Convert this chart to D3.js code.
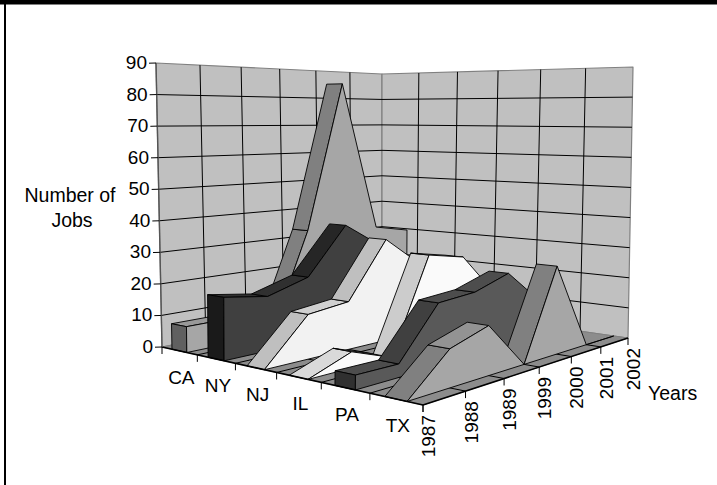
<!DOCTYPE html>
<html>
<head>
<meta charset="utf-8">
<script src="https://cdn.jsdelivr.net/npm/d3@7"></script>
<style>
  html, body { margin: 0; padding: 0; background: #fff; }
  svg { display: block; }
  text { font-family: "Liberation Sans", Arial, sans-serif; fill: #000; }
</style>
</head>
<body>
<div id="chart"></div>
<script>
// data
var years = ["1987", "1988", "1989", "1999", "2000", "2001", "2002"];
var states = ["TX", "PA", "IL", "NJ", "NY", "CA"]; // front to back
var valueTicks = [0, 10, 20, 30, 40, 50, 60, 70, 80, 90];
var caJobs = [8, 8, 0, 33.5, 85, 32, 29.5];
var nyJobs = [19, 17, 21, 36.5, 28, 15, 0];
var njJobs = [0, 13.5, 15, 33, 23, 10, 0];
var ilJobs = [0, 4.7, 0, 29.4, 27, 13, 0];
var paJobs = [4, 3.8, 18.6, 19.5, 23.3, 12.4, 0];
var txJobs = [0, 10.6, 14.2, 0, 27.2, 0, 0];
var jobs = { CA: caJobs, NY: nyJobs, NJ: njJobs, IL: ilJobs, PA: paJobs, TX: txJobs };

// shades
var frontColor = { CA: "#a6a6a6", NY: "#404040", NJ: "#f2f2f2", IL: "#fafafa", PA: "#595959", TX: "#a6a6a6" };
var stripColor = { CA: "#808080", NY: "#262626", NJ: "#bfbfbf", IL: "#cccccc", PA: "#404040", TX: "#808080" };
var flatColor = { CA: "#999999", NY: "#303030", NJ: "#d0d0d0", IL: "#d9d9d9", PA: "#4d4d4d", TX: "#939393" };
var capColor = { CA: "#606060", NY: "#1a1a1a", NJ: "#999999", IL: "#999999", PA: "#303030", TX: "#606060" };

var width = 717, height = 485;

var svg = d3.select("#chart").append("svg")
  .attr("width", width)
  .attr("height", height);

var scU = d3.scalePoint().domain(years).range([0, 1]);
var scV = d3.scaleBand().domain(states).range([0, 1]).paddingInner(0.58).paddingOuter(0.29);
var scZ = d3.scaleLinear().domain([0, 90]).range([0, 1]);

// unit square to quad, corners (0,0) (1,0) (1,1) (0,1)
function quad(p) {
  var dx1 = p[1][0] - p[2][0], dx2 = p[3][0] - p[2][0], sx = p[0][0] - p[1][0] + p[2][0] - p[3][0];
  var dy1 = p[1][1] - p[2][1], dy2 = p[3][1] - p[2][1], sy = p[0][1] - p[1][1] + p[2][1] - p[3][1];
  var den = dx1 * dy2 - dx2 * dy1;
  var g = (sx * dy2 - dx2 * sy) / den;
  var h = (dx1 * sy - sx * dy1) / den;
  var a = p[1][0] - p[0][0] + g * p[1][0], b = p[3][0] - p[0][0] + h * p[3][0];
  var d = p[1][1] - p[0][1] + g * p[1][1], e = p[3][1] - p[0][1] + h * p[3][1];
  return function (u, v) {
    var w = g * u + h * v + 1;
    return [(a * u + b * v + p[0][0]) / w, (d * u + e * v + p[0][1]) / w];
  };
}

var floorAt = quad([[423, 405], [628, 338], [382, 303], [162, 347]]);
var ceilAt = quad([[424, 52], [633, 67], [382, 74], [156, 63]]);

function pt(u, v, val) {
  var a = floorAt(u, v), b = ceilAt(u, v), t = scZ(val);
  return [a[0] + (b[0] - a[0]) * t, a[1] + (b[1] - a[1]) * t];
}

var lineMkr = d3.line();
function poly(g, pts, fill, stroke, sw) {
  g.append("path")
    .attr("d", lineMkr(pts) + "Z")
    .attr("fill", fill)
    .attr("stroke", stroke)
    .attr("stroke-width", sw)
    .attr("stroke-linejoin", "round");
}
function seg(g, a, b, stroke, sw) {
  g.append("path")
    .attr("d", lineMkr([a, b]))
    .attr("fill", "none")
    .attr("stroke", stroke)
    .attr("stroke-width", sw);
}

// slot edges on the state axis
var slotEdges = d3.range(states.length + 1).map(i => i * scV.step());

// walls and floor
var back = svg.append("g");
poly(back, [pt(0, 1, 0), pt(1, 1, 0), pt(1, 1, 90), pt(0, 1, 90)], "#c0c0c0", "#808080", 1.2);
poly(back, [pt(1, 1, 0), pt(1, 0, 0), pt(1, 0, 90), pt(1, 1, 90)], "#c0c0c0", "#808080", 1.2);
poly(back, [pt(0, 0, 0), pt(1, 0, 0), pt(1, 1, 0), pt(0, 1, 0)], "#8c8c8c", "#808080", 1);

valueTicks.slice(1, -1).forEach(function (val) {
  seg(back, pt(0, 1, val), pt(1, 1, val), "#000", 1);
  seg(back, pt(1, 1, val), pt(1, 0, val), "#000", 1);
});
years.slice(1, -1).forEach(function (yr) {
  seg(back, pt(scU(yr), 1, 0), pt(scU(yr), 1, 90), "#000", 1);
  seg(back, pt(scU(yr), 1, 0), pt(scU(yr), 0, 0), "#000", 1);
});
slotEdges.slice(1, -1).forEach(function (v) {
  seg(back, pt(1, v, 0), pt(1, v, 90), "#000", 1);
  seg(back, pt(0, v, 0), pt(1, v, 0), "#000", 1);
});

// ribbons, back to front
var ribbons = svg.append("g");
states.slice().reverse().forEach(function (st) {
  var g = ribbons.append("g");
  var vf = scV(st), vb = vf + scV.bandwidth();
  var vals = jobs[st];

  // top strips, only those facing the viewer
  d3.pairs(years).forEach(function (p, i) {
    var u0 = scU(p[0]), u1 = scU(p[1]);
    var pts = [pt(u0, vf, vals[i]), pt(u1, vf, vals[i + 1]), pt(u1, vb, vals[i + 1]), pt(u0, vb, vals[i])];
    if (vals[i] === 0 && vals[i + 1] === 0) return;
    if (d3.polygonArea(pts) < 0) return;
    poly(g, pts, Math.abs(vals[i + 1] - vals[i]) < 6 ? flatColor[st] : stripColor[st], "#000", 0.9);
  });

  // end cap at the first year
  if (vals[0] > 0) {
    poly(g, [pt(0, vf, 0), pt(0, vf, vals[0]), pt(0, vb, vals[0]), pt(0, vb, 0)], capColor[st], "#000", 0.9);
  }

  // front face
  var top = years.map((yr, i) => pt(scU(yr), vf, vals[i]));
  poly(g, [pt(0, vf, 0)].concat(top, [pt(1, vf, 0)]), frontColor[st], "#000", 0.9);
});

// axes
var axes = svg.append("g");
seg(axes, pt(0, 1, 0), pt(0, 0, 0), "#000", 1.6);
seg(axes, pt(0, 0, 0), pt(1, 0, 0), "#000", 1.6);
seg(axes, pt(0, 1, 0), pt(0, 1, 90), "#555", 1.4);

valueTicks.forEach(function (val) {
  var p = pt(0, 1, val);
  seg(axes, [p[0] - 7, p[1] + 0.2], p, "#000", 1);
  axes.append("text")
    .attr("x", p[0] - 9)
    .attr("y", p[1] + 6)
    .attr("text-anchor", "end")
    .attr("font-size", 19)
    .text(val);
});

slotEdges.forEach(function (v) {
  var p = pt(0, v, 0);
  seg(axes, p, [p[0], p[1] + 7], "#000", 1);
});
states.forEach(function (st, i) {
  var p = pt(0, (i + 0.5) * scV.step(), 0);
  axes.append("text")
    .attr("x", p[0] + 2)
    .attr("y", p[1] + 33)
    .attr("text-anchor", "middle")
    .attr("font-size", 19)
    .text(st);
});

years.forEach(function (yr) {
  var p = pt(scU(yr), 0, 0);
  seg(axes, p, [p[0], p[1] + 7], "#000", 1);
  axes.append("text")
    .attr("transform", "translate(" + (p[0] + 12) + "," + (p[1] + 10) + ") rotate(-90)")
    .attr("text-anchor", "end")
    .attr("font-size", 19)
    .text(yr);
});

// axis titles
axes.append("text").attr("x", 70).attr("y", 202).attr("text-anchor", "middle").attr("font-size", 19.5).text("Number of");
axes.append("text").attr("x", 72).attr("y", 227).attr("text-anchor", "middle").attr("font-size", 19.5).text("Jobs");
axes.append("text").attr("x", 648).attr("y", 400).attr("font-size", 19.5).text("Years");

// frame pieces left in the crop
svg.append("rect").attr("x", 0).attr("y", 0).attr("width", width).attr("height", 4.5).attr("fill", "#000");
svg.append("rect").attr("x", 4).attr("y", 0).attr("width", 2).attr("height", height).attr("fill", "#000");
</script>
</body>
</html>
